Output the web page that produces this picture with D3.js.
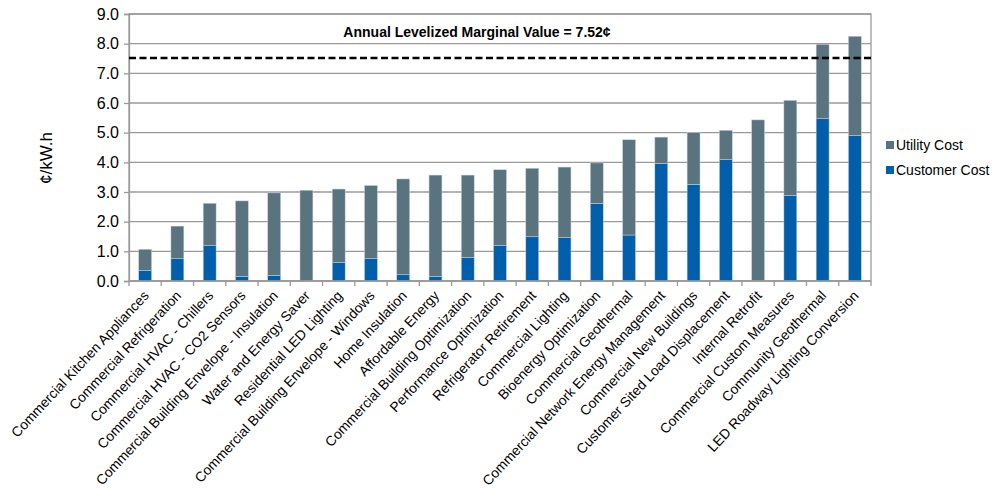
<!DOCTYPE html>
<html>
<head>
<meta charset="utf-8">
<script src="https://cdn.jsdelivr.net/npm/d3@7"></script>
<style>
  body { margin: 0; background: #fff; }
  svg { font-family: "Liberation Sans", Arial, sans-serif; }
</style>
</head>
<body>
<svg id="chart" width="993" height="499"></svg>
<script>
const categories = [
  'Commercial Kitchen Appliances', 'Commercial Refrigeration', 'Commercial HVAC  - Chillers',
  'Commercial HVAC  - CO2 Sensors', 'Commercial Building Envelope - Insulation', 'Water and Energy Saver',
  'Residential LED Lighting', 'Commercial Building Envelope - Windows', 'Home Insulation',
  'Affordable Energy', 'Commercial Building Optimization', 'Performance Optimization',
  'Refrigerator Retirement', 'Commercial Lighting', 'Bioenergy Optimization',
  'Commercial Geothermal', 'Commercial Network Energy Management', 'Commercial New Buildings',
  'Customer Sited Load Displacement', 'Internal Retrofit', 'Commercial Custom Measures',
  'Community Geothermal', 'LED Roadway Lighting Conversion'
];
const customerCost = [0.35, 0.75, 1.19, 0.15, 0.19, 0.0, 0.62, 0.75, 0.21, 0.15, 0.79, 1.19,
  1.49, 1.46, 2.62, 1.55, 3.96, 3.26, 4.09, 0.0, 2.88, 5.47, 4.90];
const totalCost = [1.07, 1.85, 2.62, 2.70, 2.97, 3.06, 3.10, 3.22, 3.44, 3.57, 3.57, 3.75,
  3.80, 3.84, 3.98, 4.76, 4.85, 5.00, 5.08, 5.43, 6.09, 7.98, 8.25];
const utilityCost = totalCost.map((t, i) => +(t - customerCost[i]).toFixed(2));
const yTicks = [0, 1, 2, 3, 4, 5, 6, 7, 8, 9];
const marginalValue = 7.52;
const seriesKeys = ['customer', 'utility'];
const seriesLabels = { utility: 'Utility Cost', customer: 'Customer Cost' };
const seriesColours = { utility: '#59737f', customer: '#005eab' };

const margin = { top: 14, left: 129, right: 122, bottom: 218 };
const width = 993, height = 499;
const plotWidth = width - margin.left - margin.right;
const plotHeight = height - margin.top - margin.bottom;

const rows = categories.map((c, i) => ({ name: c, customer: customerCost[i], utility: utilityCost[i] }));

const svg = d3.select('#chart');
const g = svg.append('g').attr('transform', `translate(${margin.left},${margin.top})`);

const x = d3.scaleBand().domain(categories).range([0, plotWidth]).paddingInner(0.6).paddingOuter(0.3);
const y = d3.scaleLinear().domain([0, 9]).range([plotHeight, 0]);

// gridlines
g.append('g')
  .selectAll('line')
  .data(yTicks)
  .join('line')
    .attr('x1', 0).attr('x2', plotWidth)
    .attr('y1', d => y(d)).attr('y2', d => y(d))
    .attr('stroke', '#9a9a9a').attr('stroke-width', 1.3);

// plot border
g.append('rect')
  .attr('x', 0).attr('y', 0)
  .attr('width', plotWidth).attr('height', plotHeight)
  .attr('fill', 'none').attr('stroke', '#9a9a9a').attr('stroke-width', 1.3);

// stacked bars
const stacked = d3.stack().keys(seriesKeys)(rows);
g.append('g')
  .selectAll('g')
  .data(stacked)
  .join('g')
    .attr('fill', d => seriesColours[d.key])
  .selectAll('rect')
  .data(d => d)
  .join('rect')
    .attr('x', d => x(d.data.name))
    .attr('width', x.bandwidth())
    .attr('y', d => y(d[1]))
    .attr('height', d => Math.max(0, y(d[0]) - y(d[1])))
    .attr('stroke', '#c9d3da')
    .attr('stroke-width', 0.5);

// y axis
const yAxis = d3.axisLeft(y).tickValues(yTicks).tickSize(5).tickFormat(d3.format('.1f'));
g.append('g')
  .call(yAxis)
  .call(a => a.select('.domain').attr('stroke', '#9a9a9a').attr('stroke-width', 1.3))
  .call(a => a.selectAll('.tick line').attr('stroke', '#9a9a9a').attr('stroke-width', 1.3))
  .call(a => a.selectAll('.tick text')
    .attr('x', -10)
    .attr('font-size', 16)
    .attr('font-family', '"Liberation Sans", Arial, sans-serif')
    .attr('fill', '#000'));

// x axis: ticks at category boundaries
const boundaries = d3.range(categories.length + 1).map(i => i * plotWidth / categories.length);
const xAxisG = g.append('g').attr('transform', `translate(0,${plotHeight})`);
xAxisG.append('line')
  .attr('x1', 0).attr('x2', plotWidth)
  .attr('stroke', '#9a9a9a').attr('stroke-width', 1.3);
xAxisG.selectAll('line.tick')
  .data(boundaries)
  .join('line')
    .attr('class', 'tick')
    .attr('x1', d => d).attr('x2', d => d)
    .attr('y1', 0).attr('y2', 5)
    .attr('stroke', '#9a9a9a').attr('stroke-width', 1.3);

xAxisG.selectAll('text')
  .data(categories)
  .join('text')
    .attr('transform', d => `translate(${x(d) + x.bandwidth() / 2 + 1},${12}) rotate(-47)`)
    .attr('text-anchor', 'end')
    .attr('font-size', 13.8)
    .attr('fill', '#000')
    .attr('dy', '0.35em')
    .text(d => d);

// marginal value line
g.append('line')
  .attr('x1', 0).attr('x2', plotWidth)
  .attr('y1', y(marginalValue)).attr('y2', y(marginalValue))
  .attr('stroke', '#000').attr('stroke-width', 2.5)
  .attr('stroke-dasharray', '7,3.5');

g.append('text')
  .attr('x', 348)
  .attr('y', 23)
  .attr('text-anchor', 'middle')
  .attr('font-size', 14)
  .attr('font-weight', 'bold')
  .attr('fill', '#000')
  .text('Annual Levelized Marginal Value = 7.52\u00a2');

// y title
svg.append('text')
  .attr('transform', 'translate(52,158) rotate(-90)')
  .attr('text-anchor', 'middle')
  .attr('font-size', 17)
  .attr('fill', '#000')
  .text('\u00a2/kW.h');

// legend
const legend = svg.append('g').attr('transform', 'translate(886,141)');
const legendItems = legend.selectAll('g')
  .data(['utility', 'customer'])
  .join('g')
    .attr('transform', (d, i) => `translate(0,${i * 25})`);
legendItems.append('rect')
  .attr('width', 8).attr('height', 8)
  .attr('fill', d => seriesColours[d]);
legendItems.append('text')
  .attr('x', 10).attr('y', 9)
  .attr('font-size', 14)
  .attr('fill', '#000')
  .text(d => seriesLabels[d]);
</script>
</body>
</html>
